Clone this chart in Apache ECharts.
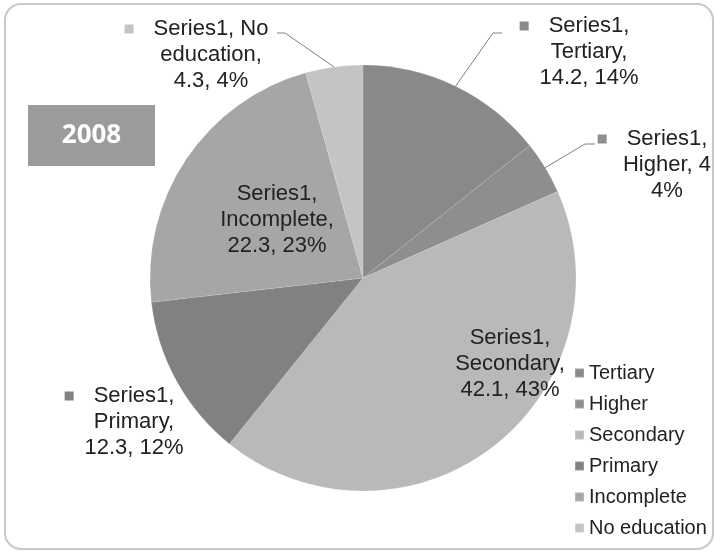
<!DOCTYPE html>
<html><head><meta charset="utf-8">
<script src="https://cdn.jsdelivr.net/npm/echarts@6/dist/echarts.min.js"></script>
<style>html,body{margin:0;padding:0;background:#fff}#c{width:716px;height:552px}</style>
</head><body><div id="c"></div>
<script>
// ---- data ----
const seriesName = 'Series1';
const categories = ['Tertiary', 'Higher', 'Secondary', 'Primary', 'Incomplete', 'No education'];
const values = [14.2, 4, 42.1, 12.3, 22.3, 4.3];
const percentLabels = [14, 4, 43, 12, 23, 4];
const chartTitle = '2008';

// ---- styling ----
const palette = ['#898989', '#8e8e8e', '#b9b9b9', '#818181', '#a6a6a6', '#c4c4c4'];
const insideLabels = ['Secondary', 'Incomplete'];
const labelPlacement = {
  'Tertiary': { x: 589, y: 52, line: [[493, 33], [502, 33]] },
  'Higher': { x: 667, y: 165, line: [[585, 144], [595, 144]] },
  'Secondary': { x: 510, y: 364 },
  'Primary': { x: 134, y: 422 },
  'Incomplete': { x: 277, y: 220 },
  'No education': { x: 211, y: 55, line: [[285, 33], [277, 33]] }
};
const FONT = '"Liberation Sans", Arial, sans-serif';

function labelText(i) {
  const name = categories[i], v = values[i], p = percentLabels[i] + '%';
  let lines;
  if (name === 'No education') lines = [seriesName + ', No', 'education,', v + ', ' + p];
  else if (name === 'Higher') lines = [seriesName + ',', name + ', ' + v, p];
  else lines = [seriesName + ',', name + ',', v + ', ' + p];
  if (insideLabels.indexOf(name) < 0) lines[0] = '{m|}{g|}' + lines[0] + '{s|}';
  return lines.join('\n');
}

const pieData = categories.map(function (name, i) {
  const inside = insideLabels.indexOf(name) >= 0;
  return {
    name: name,
    value: values[i],
    itemStyle: { color: palette[i] },
    label: {
      position: inside ? 'inside' : 'outside',
      formatter: labelText(i),
      rich: {
        m: { width: 9, height: 9, backgroundColor: palette[i], verticalAlign: 'middle', lineHeight: 26 },
        g: { width: 20, height: 9, lineHeight: 26 },
        s: { width: 29, height: 9, lineHeight: 26 }
      }
    },
    labelLine: { show: !!labelPlacement[name].line }
  };
});

const chart = echarts.init(document.getElementById('c'), null, { renderer: 'canvas' });
chart.setOption({
  animation: false,
  backgroundColor: '#fff',
  legend: {
    orient: 'vertical',
    left: 569,
    top: 358,
    icon: 'rect',
    itemWidth: 9,
    itemHeight: 9,
    itemGap: 11,
    selectedMode: false,
    data: categories,
    textStyle: { fontFamily: FONT, fontSize: 20, lineHeight: 20, color: '#222' }
  },
  graphic: [
    { type: 'rect', shape: { x: 5, y: 4, width: 708, height: 545, r: 16 },
      style: { fill: 'none', stroke: '#c8c8c8', lineWidth: 2 }, z: 0 },
    { type: 'rect', shape: { x: 28, y: 105, width: 127, height: 61 },
      style: { fill: '#9b9b9b' }, z: 10 },
    { type: 'text', x: 91.5, y: 136, z: 11,
      style: { text: chartTitle, fill: '#fff', font: 'bold 26px "Open Sans", sans-serif',
        textAlign: 'center', textVerticalAlign: 'middle' } }
  ],
  series: [{
    type: 'pie',
    name: seriesName,
    center: [363, 278],
    radius: 213,
    startAngle: 90,
    clockwise: true,
    avoidLabelOverlap: false,
    itemStyle: { borderColor: 'rgba(255,255,255,0.2)', borderWidth: 0.6 },
    emphasis: { disabled: true },
    label: {
      show: true,
      fontFamily: FONT,
      fontSize: 22,
      lineHeight: 26,
      color: '#222',
      align: 'center'
    },
    labelLine: { show: true, smooth: false, lineStyle: { color: '#808080', width: 1 } },
    labelLayout: function (p) {
      const pl = labelPlacement[categories[p.dataIndex]];
      const out = { x: pl.x, y: pl.y, align: 'center', verticalAlign: 'middle', hideOverlap: false };
      if (pl.line && p.labelLinePoints) {
        out.labelLinePoints = [p.labelLinePoints[0]].concat(pl.line);
      }
      return out;
    },
    data: pieData
  }]
});
</script>
</body></html>
